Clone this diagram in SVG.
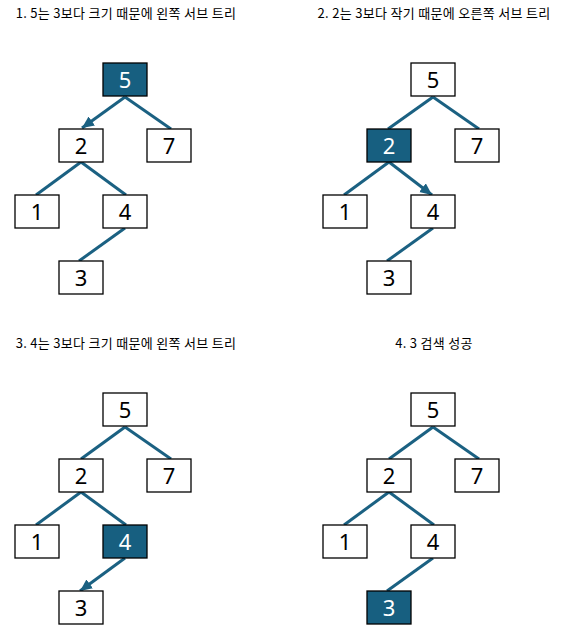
<svg xmlns="http://www.w3.org/2000/svg" width="561" height="635" viewBox="0 0 561 635">
<style>
.title{font-family:"Noto Sans CJK KR","Noto Sans",sans-serif;font-size:13px;letter-spacing:0.3px;fill:#000;text-anchor:middle}
.box{fill:#fff;stroke:#000;stroke-width:1.3}
.hl .box{fill:#175f80}
.lbl{font-family:"Noto Sans","Liberation Sans",sans-serif;font-size:22px;fill:#000;text-anchor:middle}
.hl .lbl{fill:#fff}
.edge{stroke:#1b6182;stroke-width:3;fill:none}
.arrow{marker-end:url(#ah)}
</style>
<defs>
<marker id="ah" markerUnits="userSpaceOnUse" markerWidth="14" markerHeight="12" refX="12" refY="5.5" orient="auto">
<path d="M0,0 L12,5.5 L0,11 Z" fill="#1b6182"/>
</marker>
</defs>
<rect width="561" height="635" fill="#fff"/>
<g id="titles">
<text class="title" x="126" y="18">1. 5는 3보다 크기 때문에 왼쪽 서브 트리</text>
<text class="title" x="434" y="18">2. 2는 3보다 작기 때문에 오른쪽 서브 트리</text>
<text class="title" x="126" y="348">3. 4는 3보다 크기 때문에 왼쪽 서브 트리</text>
<text class="title" x="434" y="348">4. 3 검색 성공</text>
</g>
<g id="connectors">
<path class="edge arrow" d="M125,97 L82,128"/>
<path class="edge" d="M125,97 L171,129"/>
<path class="edge" d="M81,162 L36,195"/>
<path class="edge" d="M81,162 L126,195"/>
<path class="edge" d="M125,228 L79,261"/>
<path class="edge" d="M433,97 L388,129"/>
<path class="edge" d="M433,97 L479,129"/>
<path class="edge" d="M389,162 L344,195"/>
<path class="edge arrow" d="M389,162 L432,195"/>
<path class="edge" d="M433,228 L387,261"/>
<path class="edge" d="M125,427 L81,459"/>
<path class="edge" d="M125,427 L171,459"/>
<path class="edge" d="M81,492 L36,525"/>
<path class="edge" d="M81,492 L126,525"/>
<path class="edge arrow" d="M125,558 L80,591"/>
<path class="edge" d="M433,427 L389,459"/>
<path class="edge" d="M433,427 L479,459"/>
<path class="edge" d="M389,492 L344,525"/>
<path class="edge" d="M389,492 L434,525"/>
<path class="edge" d="M433,558 L387,591"/>
</g>
<g id="p1-n5" class="hl"><rect class="box" x="103" y="63" width="44" height="33"/><text class="lbl" x="125" y="88">5</text></g>
<g id="p1-n2"><rect class="box" x="59" y="129" width="44" height="33"/><text class="lbl" x="81" y="154">2</text></g>
<g id="p1-n7"><rect class="box" x="147" y="129" width="44" height="33"/><text class="lbl" x="169" y="154">7</text></g>
<g id="p1-n1"><rect class="box" x="15" y="195" width="44" height="33"/><text class="lbl" x="37" y="220">1</text></g>
<g id="p1-n4"><rect class="box" x="103" y="195" width="44" height="33"/><text class="lbl" x="125" y="220">4</text></g>
<g id="p1-n3"><rect class="box" x="59" y="261" width="44" height="33"/><text class="lbl" x="81" y="286">3</text></g>
<g id="p2-n5"><rect class="box" x="411" y="63" width="44" height="33"/><text class="lbl" x="433" y="88">5</text></g>
<g id="p2-n2" class="hl"><rect class="box" x="367" y="129" width="44" height="33"/><text class="lbl" x="389" y="154">2</text></g>
<g id="p2-n7"><rect class="box" x="455" y="129" width="44" height="33"/><text class="lbl" x="477" y="154">7</text></g>
<g id="p2-n1"><rect class="box" x="323" y="195" width="44" height="33"/><text class="lbl" x="345" y="220">1</text></g>
<g id="p2-n4"><rect class="box" x="411" y="195" width="44" height="33"/><text class="lbl" x="433" y="220">4</text></g>
<g id="p2-n3"><rect class="box" x="367" y="261" width="44" height="33"/><text class="lbl" x="389" y="286">3</text></g>
<g id="p3-n5"><rect class="box" x="103" y="393" width="44" height="33"/><text class="lbl" x="125" y="418">5</text></g>
<g id="p3-n2"><rect class="box" x="59" y="459" width="44" height="33"/><text class="lbl" x="81" y="484">2</text></g>
<g id="p3-n7"><rect class="box" x="147" y="459" width="44" height="33"/><text class="lbl" x="169" y="484">7</text></g>
<g id="p3-n1"><rect class="box" x="15" y="525" width="44" height="33"/><text class="lbl" x="37" y="550">1</text></g>
<g id="p3-n4" class="hl"><rect class="box" x="103" y="525" width="44" height="33"/><text class="lbl" x="125" y="550">4</text></g>
<g id="p3-n3"><rect class="box" x="59" y="591" width="44" height="33"/><text class="lbl" x="81" y="616">3</text></g>
<g id="p4-n5"><rect class="box" x="411" y="393" width="44" height="33"/><text class="lbl" x="433" y="418">5</text></g>
<g id="p4-n2"><rect class="box" x="367" y="459" width="44" height="33"/><text class="lbl" x="389" y="484">2</text></g>
<g id="p4-n7"><rect class="box" x="455" y="459" width="44" height="33"/><text class="lbl" x="477" y="484">7</text></g>
<g id="p4-n1"><rect class="box" x="323" y="525" width="44" height="33"/><text class="lbl" x="345" y="550">1</text></g>
<g id="p4-n4"><rect class="box" x="411" y="525" width="44" height="33"/><text class="lbl" x="433" y="550">4</text></g>
<g id="p4-n3" class="hl"><rect class="box" x="367" y="591" width="44" height="33"/><text class="lbl" x="389" y="616">3</text></g>
</svg>
